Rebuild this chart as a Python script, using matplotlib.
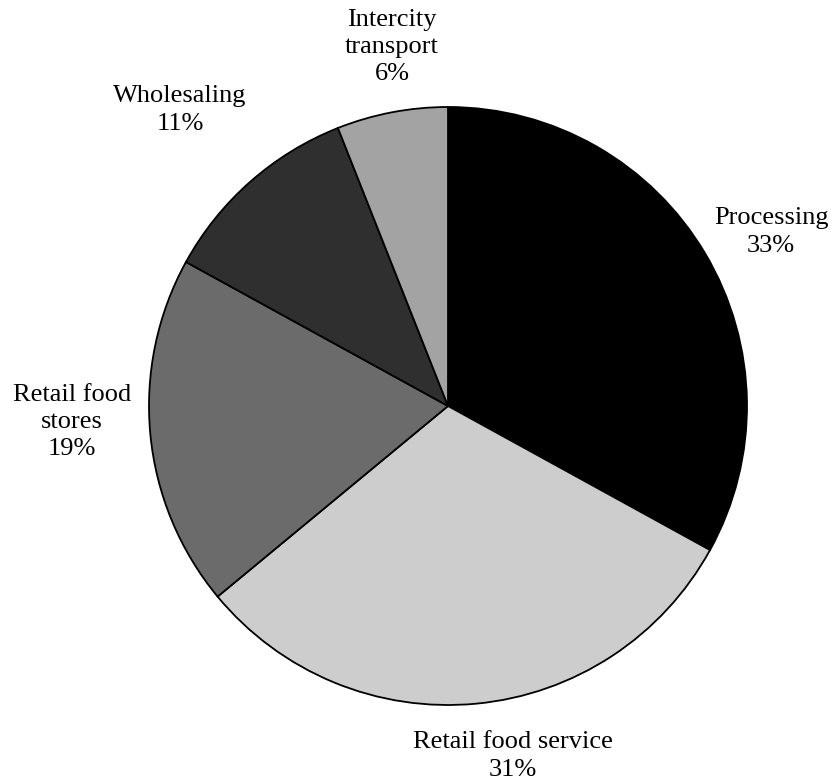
import matplotlib.pyplot as plt

# food marketing cost shares
labels = ["Processing", "Retail food service", "Retail food\nstores", "Wholesaling", "Intercity\ntransport"]
shares = [33, 31, 19, 11, 6]
colors = ["#000000", "#cdcdcd", "#6b6b6b", "#2f2f2f", "#a3a3a3"]

# label anchor points in pixels (x, y from top)
label_pos = [(771, 232), (513, 756), (72, 422), (180, 110), (392, 47)]

W, H = 833, 779
fig = plt.figure(figsize=(W / 100, H / 100), dpi=100)
ax = fig.add_axes([0, 0, 1, 1])

ax.pie(shares, colors=colors, startangle=90, counterclock=False,
       center=(448, H - 406), radius=299,
       wedgeprops=dict(edgecolor="black", linewidth=1.3))
ax.set_xlim(0, W)
ax.set_ylim(0, H)
ax.set_aspect("equal")
ax.axis("off")

for lab, val, (px, py) in zip(labels, shares, label_pos):
    ax.text(px, H - py, f"{lab}\n{val}%", ha="center", va="center",
            fontsize=19, family="Liberation Serif", linespacing=1.3)

fig.savefig("out.png", dpi=100)
